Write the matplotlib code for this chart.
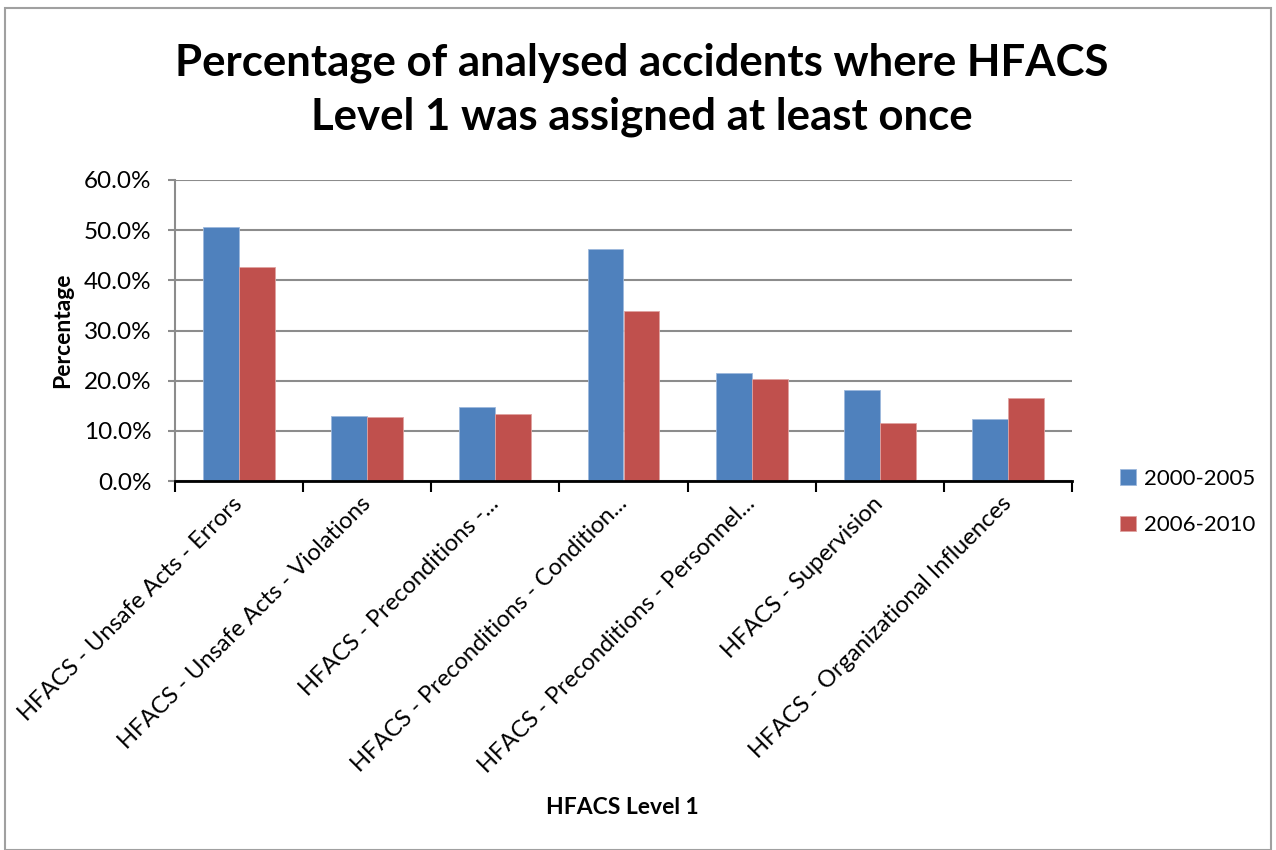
import matplotlib.pyplot as plt
from matplotlib.patches import Rectangle
import numpy as np

plt.rcParams['font.family'] = ['Lato', 'DejaVu Sans']

categories = ["HFACS - Unsafe Acts - Errors",
              "HFACS - Unsafe Acts - Violations",
              "HFACS - Preconditions -...",
              "HFACS - Preconditions - Condition...",
              "HFACS - Preconditions - Personnel...",
              "HFACS - Supervision",
              "HFACS - Organizational Influences"]
p2000_2005 = [50.7, 13.0, 14.8, 46.2, 21.6, 18.2, 12.4]
p2006_2010 = [42.6, 12.8, 13.4, 33.9, 20.3, 11.5, 16.6]
series_names = ["2000-2005", "2006-2010"]
yticks = [0, 10, 20, 30, 40, 50, 60]

fig = plt.figure(figsize=(12.76, 8.5), dpi=100)
ax = fig.add_axes([175/1276, 1 - 481/850, (1072-175)/1276, (481-180)/850])

x = np.arange(len(categories))
w = 0.28
ax.bar(x - w/2, p2000_2005, w, color='#4F81BD', edgecolor='#9db8dc', linewidth=0.6,
       label=series_names[0], zorder=3)
ax.bar(x + w/2, p2006_2010, w, color='#C0504D', edgecolor='#e0a3a1', linewidth=0.6,
       label=series_names[1], zorder=3)

ax.set_xlim(-0.5, len(categories) - 0.5)
ax.set_ylim(0, 60)
ax.set_yticks(yticks)
ax.set_yticklabels([f"{v:.1f}%" for v in yticks], fontsize=17.5)
ax.yaxis.grid(True, color='#8c8c8c', linewidth=1.5, zorder=0)
ax.tick_params(axis='y', length=5, color='#8c8c8c', width=1.5, pad=12)

# category boundary ticks, labels at centres
ax.set_xticks(np.arange(-0.5, len(categories)), minor=False)
ax.set_xticklabels([])
ax.tick_params(axis='x', which='major', length=8, width=1.5, color='black')
ax.set_xticks(x, minor=True)
ax.set_xticklabels(categories, minor=True, rotation=45, ha='right',
                   va='center', rotation_mode='anchor', fontsize=17)
ax.tick_params(axis='x', which='minor', length=0, pad=14)

for s in ['top', 'right']:
    ax.spines[s].set_visible(False)
ax.spines['left'].set_color('#8c8c8c')
ax.spines['left'].set_linewidth(1.5)
ax.spines['bottom'].set_color('black')
ax.spines['bottom'].set_linewidth(2)
ax.spines['bottom'].set_zorder(4)

ax.set_ylabel("Percentage", fontsize=16.5, fontweight='bold', labelpad=8)
fig.text(622/1276, 1 - 808/850, "HFACS Level 1", fontsize=16.5, fontweight='bold',
         ha='center', va='center')

fig.text(642/1276, 1 - 90/850,
         "Percentage of analysed accidents where HFACS\nLevel 1 was assigned at least once",
         fontsize=31.5, fontweight='bold', ha='center', va='center', linespacing=1.4)

fig.legend(loc='center left', bbox_to_anchor=(1100/1276, 1 - 502/850), frameon=False,
           fontsize=16, handlelength=0.7, handleheight=0.7, labelspacing=1.2,
           handletextpad=0.4)

fig.patches.append(Rectangle((5/1276, 0), 1 - 10/1276, 1 - 8/850, transform=fig.transFigure,
                             fill=False, edgecolor='#a0a0a0', linewidth=1.5))

fig.savefig("out.png", dpi=100)
